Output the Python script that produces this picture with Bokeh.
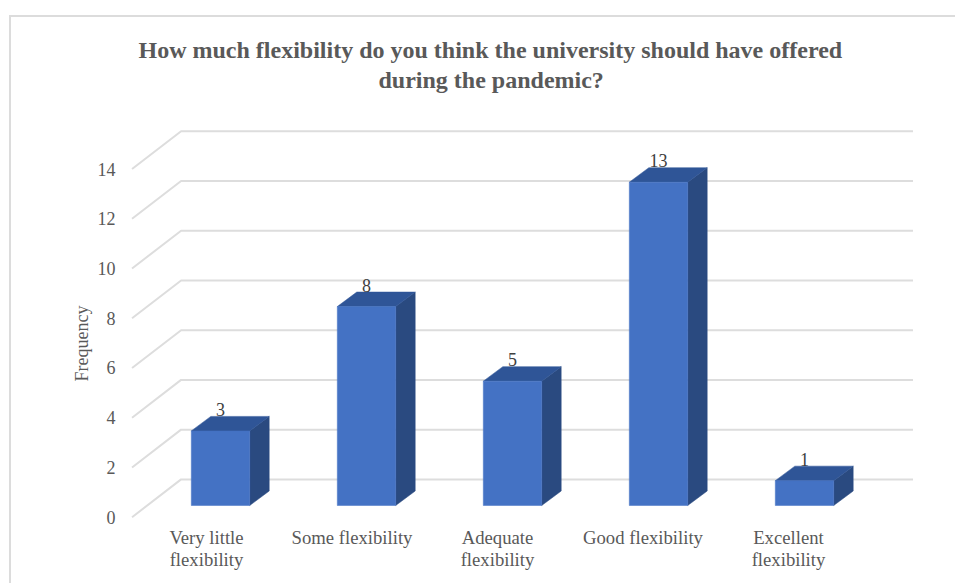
from bokeh.plotting import figure
from bokeh.embed import file_html
from bokeh.resources import INLINE
from bokeh.models import Range1d, LinearAxis, FixedTicker, Title, ColumnDataSource, InlineStyleSheet
from bokeh.core.properties import value

categories = ["Very little\nflexibility", "Some flexibility", "Adequate\nflexibility", "Good flexibility", "Excellent\nflexibility"]
frequency = [3, 8, 5, 13, 1]
y_ticks = [0, 2, 4, 6, 8, 10, 12, 14]
title_lines = ["How much flexibility do you think the university should have offered", "during the pandemic?"]
y_label = "Frequency"

SERIF = "Liberation Serif"
TXT = "#595959"
BAR_W = 0.4
DX, DV = 0.1336, 0.583          # bar depth in data units
GRID_FRONT_X, GRID_BACK_X, GRID_END_X = -0.606, -0.27, 4.743
GRID_FRONT_V, GRID_BACK_V = -0.47, 1.05

frame_css = InlineStyleSheet(css=""":host::before{content:'';position:absolute;left:9px;top:15px;right:0;bottom:0;
border-left:2px solid #dcdcdc;border-top:2px solid #dcdcdc;z-index:5;pointer-events:none}""")

p = figure(width=955, height=583, output_backend="svg", toolbar_location=None,
           x_range=Range1d(-0.6713, 5.0342), y_range=Range1d(-3.136, 16.164),
           min_border_left=122, min_border_right=0, min_border_top=103, min_border_bottom=0,
           outline_line_color=None, background_fill_color="white", border_fill_color="white",
           stylesheets=[frame_css])
p.extra_y_ranges = {"front": Range1d(-2.666, 16.634)}
p.extra_x_ranges = {"labels": Range1d(-0.5773, 5.1478)}
p.xaxis.visible = False
p.yaxis.visible = False
p.grid.visible = False

# 3-D wall and floor grid
p.multi_line(xs=[[GRID_FRONT_X, GRID_BACK_X, GRID_END_X] for _ in y_ticks],
             ys=[[t + GRID_FRONT_V, t + GRID_BACK_V, t + GRID_BACK_V] for t in y_ticks],
             line_color="#dddddd", line_width=2)

idx = list(range(len(frequency)))
L = [i - BAR_W / 2 for i in idx]
R = [i + BAR_W / 2 for i in idx]
p.patches(xs=[[r, r + DX, r + DX, r] for r in R],
          ys=[[0, DV, v + DV, v] for v in frequency],
          fill_color="#2A4A80", line_color="#2A4A80", line_width=0.5)
p.patches(xs=[[l, r, r + DX, l + DX] for l, r in zip(L, R)],
          ys=[[v, v, v + DV, v + DV] for v in frequency],
          fill_color="#2F5597", line_color="#2F5597", line_width=0.5)
p.vbar(x=idx, top=frequency, bottom=0, width=BAR_W, fill_color="#4472C4", line_color="#4472C4", line_width=0.5)

lab = ColumnDataSource(dict(x=idx, y=[v + DV for v in frequency], t=[str(v) for v in frequency]))
p.text(x="x", y="y", text="t", source=lab, y_offset=-7, text_align="center", text_baseline="middle",
       text_font=value(SERIF), text_font_size="18px", text_color="#404040")

yax = LinearAxis(y_range_name="front", ticker=FixedTicker(ticks=y_ticks), axis_label=y_label,
                 axis_line_color=None, major_tick_line_color=None, minor_tick_line_color=None,
                 major_label_standoff=1, axis_label_standoff=3,
                 major_label_text_font=SERIF, major_label_text_font_size="18px", major_label_text_color=TXT,
                 axis_label_text_font=SERIF, axis_label_text_font_size="18px", axis_label_text_color=TXT,
                 axis_label_text_font_style="normal")
p.add_layout(yax, "left")

xax = LinearAxis(x_range_name="labels", ticker=FixedTicker(ticks=idx),
                 major_label_overrides={i: c for i, c in zip(idx, categories)},
                 fixed_location=-0.523,
                 axis_line_color=None, major_tick_line_color=None, minor_tick_line_color=None,
                 major_label_standoff=2,
                 major_label_text_font=SERIF, major_label_text_font_size="18.7px", major_label_text_color=TXT,
                 major_label_text_line_height=1.08)
p.add_layout(xax, "below")

# one title per line so that both lines are centred over the plot
p.add_layout(Title(text=title_lines[1], align="left", offset=256, text_font=SERIF, text_font_size="24px",
                   text_font_style="bold", text_color=TXT, standoff=21), "above")
p.add_layout(Title(text=title_lines[0], align="left", offset=16, text_font=SERIF, text_font_size="24px",
                   text_font_style="bold", text_color=TXT, standoff=-16), "above")

open("out.html", "w").write(file_html(p, INLINE))
